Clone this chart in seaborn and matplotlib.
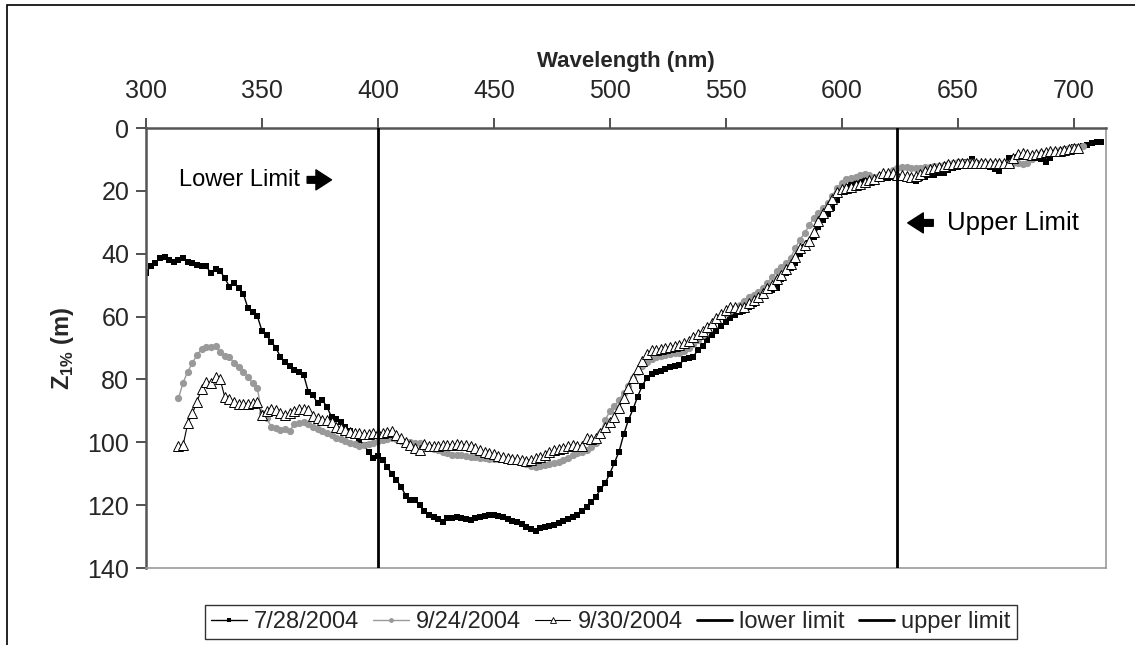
import numpy as np
import pandas as pd
import matplotlib
matplotlib.use("Agg")
import matplotlib.pyplot as plt
import seaborn as sns
from matplotlib.lines import Line2D
from matplotlib.patches import Rectangle

# ---------------- data ----------------
wl_0728 = list(range(300, 714, 2))
z_0728 = [46, 44, 43, 41.5, 41, 42, 42.5, 42, 41.5, 42.5,
          43, 43.5, 44, 44, 46.2, 45, 45.5, 47.8, 50.5, 49.4,
          51, 52.8, 57.4, 58.5, 59.8, 64.5, 66, 68, 70, 72.8,
          74.5, 75.7, 77, 77.5, 78.6, 83.9, 85, 87.6, 86.5, 88.7,
          91.9, 92.5, 93.7, 95, 96.5, 98, 99.3, 101, 103, 105,
          104.5, 105.5, 107.8, 110.1, 112, 114.1, 117, 118.4, 118.4, 120,
          122, 123, 123.7, 124.5, 125.3, 124, 124, 123.7, 124, 124.3,
          124.7, 124, 123.7, 123.4, 123.1, 123.1, 123.4, 123.8, 124.4, 125,
          125.5, 126, 127, 127.5, 128.1, 127.3, 126.8, 126.6, 126.2, 125.7,
          125, 124.5, 123.7, 123, 121.8, 120.7, 119, 117.3, 115, 113,
          110, 106.5, 103, 97.5, 93, 89.5, 85.5, 82, 79.5, 78.3,
          77.7, 77.2, 76.8, 76.1, 75.8, 75.4, 73.6, 73.3, 72.8, 70.6,
          69.5, 67.5, 65.9, 64.5, 63, 61.8, 60.6, 59.5, 58.4, 57.5,
          56.8, 56, 54.8, 53.4, 52, 51.5, 51, 48, 46, 44.5,
          43, 40, 37.8, 36.5, 34.6, 31.5, 29.3, 27.5, 25.5, 23,
          20.5, 18.8, 17.5, 17, 16.7, 16.5, 16.5, 16.5, 16.3, 16,
          15.8, 15.6, 15.5, 16, 16, 16.3, 16.8, 16, 15.5, 15,
          14.8, 14.4, 14.2, 13.5, 12.8, 12.3, 11.5, 10.8, 10, 11,
          11.5, 12, 12.5, 13, 13.6, 11.5, 9.7, 9.5, 9.3, 9.2,
          9.1, 9.1, 9.5, 10, 10.7, 9.5, 8.3, 7.5, 7.0, 6.6,
          6.2, 5.9, 5.6, 5.3, 4.9, 4.6, 4.3]

wl_0924 = list(range(314, 706, 2))
z_0924 = [86, 81, 77.5, 74.8, 72.2, 70.4, 69.8, 69.6, 69.4, 71.2,
          72.5, 73, 74.7, 75.9, 77.5, 79.3, 81.2, 82.8, 90.8, 92.4,
          95, 95.5, 96.1, 95.8, 96.3, 94.2, 93.8, 93.7, 94.2, 95.2,
          95.9, 96.3, 97, 97.7, 98.5, 99.1, 99.6, 100.1, 100.5, 101.2,
          101, 100.5, 100.1, 99.5, 99.3, 99, 98.7, 99, 99.5, 99.8,
          100, 100.2, 100.3, 101, 101.5, 102, 102.5, 103, 103.5, 104,
          104, 104.2, 104.4, 104.6, 104.7, 104.9, 105.1, 105.2, 105.2, 105.3,
          105.4, 105.5, 105.6, 105.8, 106.2, 106.8, 107.4, 107.8, 107.6, 107.2,
          107, 106.7, 106.2, 105.5, 105, 104.2, 103.5, 103, 102.4, 101.5,
          100.3, 97, 92.9, 90.2, 88.5, 86.5, 84.3, 82, 79.6, 77.5,
          75.8, 74.3, 73.6, 73, 72.7, 72.3, 71.9, 71.7, 71.5, 71,
          70.1, 68.7, 67.4, 66, 64.2, 62.6, 61, 59.7, 59, 58.3,
          57.3, 56.3, 55, 53.9, 53, 52.3, 51, 49.2, 47.5, 45.6,
          44.1, 43, 41.3, 38.2, 35.5, 33.4, 31, 28.5, 27, 25.5,
          23.8, 21.5, 19, 17.5, 16.3, 15.9, 15.5, 15, 14.6, 15,
          15.5, 15.3, 15.1, 14.5, 13.5, 12.8, 12.4, 12.5, 12.7, 12.8,
          12.6, 12.4, 12.3, 12.2, 12, 11.7, 11.4, 11.1, 10.9, 10.8,
          10.7, 10.9, 11, 11.1, 11.2, 11.1, 11, 11, 11, 11,
          11.1, 11.2, 11.3, 11.2, 10, 8.6, 8.1, 7.8, 7.5, 7.2,
          7, 6.7, 6.4, 6.1, 5.9, 5.7]

wl_0930 = list(range(314, 704, 2))
z_0930 = [101.2, 100.9, 94, 90.8, 87.1, 83, 80.7, 81, 79.1, 80,
          85.7, 86.3, 87.1, 87.8, 87.8, 87.8, 87.5, 87.1, 91.3, 89.9,
          89.5, 89.8, 90.6, 91.3, 90.6, 90, 89.5, 89.5, 89.7, 91.6,
          92.4, 92.9, 93, 93.7, 95, 95.5, 96.2, 96.6, 97, 97.1,
          97.3, 97.4, 97.2, 97, 97, 96.6, 96.3, 97.7, 98.5, 99.8,
          100.9, 101.8, 102.5, 100.7, 101.1, 101.2, 101.2, 101, 100.9, 100.8,
          100.5, 100.8, 100.9, 101.2, 101.8, 102.4, 103, 103.3, 103.8, 104.5,
          104.8, 105.1, 105.2, 105.4, 105.6, 105.8, 105.5, 105.1, 104.8, 104,
          103.2, 102.6, 102.2, 101.7, 101.2, 101, 101.2, 101.2, 98.7, 98.9,
          98.7, 97, 95, 93.5, 91.8, 89, 86, 82.8, 79.5, 76.8,
          74, 72, 70.6, 70.5, 70.4, 70, 69.6, 69.3, 69, 68.5,
          67.8, 66.5, 65.6, 64.5, 63.3, 62, 60.5, 59.3, 58, 56.9,
          57, 57.4, 56.8, 55.8, 54.8, 53.8, 52.5, 51, 49.8, 48,
          46.8, 45, 43.3, 41, 38.3, 37.2, 35.8, 33, 29.5, 27,
          24.8, 22.5, 20.5, 19.3, 19, 18.7, 18.2, 17.8, 17.3, 16.7,
          16.2, 15.3, 14.4, 14.4, 14.4, 14.8, 15.1, 15.4, 15.5, 15.2,
          14.5, 13.7, 13, 12.7, 12.3, 12, 11.6, 11.4, 11.2, 11.2,
          11.2, 11.2, 11.2, 11.2, 11.2, 11.2, 11.2, 11.2, 11.2, 11,
          9.5, 8.2, 8.1, 8.4, 8.6, 8.2, 7.8, 7.5, 7.4, 7.3,
          7.2, 7, 6.8, 6.5, 6.3]

series_labels = ["7/28/2004", "9/24/2004", "9/30/2004"]
limit_labels = ["lower limit", "upper limit"]
limits_nm = [400, 624]
x_ticks = [300, 350, 400, 450, 500, 550, 600, 650, 700]
y_ticks = [0, 20, 40, 60, 80, 100, 120, 140]

# ---------------- style ----------------
sns.set_theme(style="white")
plt.rcParams["font.family"] = ["Liberation Sans", "DejaVu Sans"]
plt.rcParams["mathtext.fontset"] = "custom"
plt.rcParams["mathtext.rm"] = "Liberation Sans"
plt.rcParams["mathtext.bf"] = "Liberation Sans:bold"

fig = plt.figure(figsize=(11.35, 6.45), dpi=100)
ax = fig.add_axes([146 / 1135, 1 - 568 / 645, (1106 - 146) / 1135, (568 - 128) / 645])

df1 = pd.DataFrame({"wl": wl_0728, "z": z_0728})
df2 = pd.DataFrame({"wl": wl_0924, "z": z_0924})
df3 = pd.DataFrame({"wl": wl_0930, "z": z_0930})

sns.lineplot(data=df2, x="wl", y="z", ax=ax, color="#999999", lw=1,
             marker="o", markersize=5.2, markeredgewidth=0, markerfacecolor="#999999",
             zorder=3, estimator=None, sort=False)
sns.lineplot(data=df3, x="wl", y="z", ax=ax, color="black", lw=0.8,
             marker="^", markersize=6.5, markeredgewidth=0.7, markerfacecolor="white",
             markeredgecolor="black", zorder=4, estimator=None, sort=False)
sns.lineplot(data=df1, x="wl", y="z", ax=ax, color="black", lw=1,
             marker="s", markersize=4.6, markeredgewidth=0, markerfacecolor="black",
             zorder=2, estimator=None, sort=False)

for xv in limits_nm:
    ax.axvline(xv, color="black", lw=2.0, zorder=5)

ax.set_xlim(300, 714)
ax.set_ylim(140, 0)
ax.set_xticks(x_ticks)
ax.set_yticks(y_ticks)
ax.xaxis.tick_top()
ax.xaxis.set_label_position("top")
ax.tick_params(axis="x", which="both", direction="out", length=7, width=1.2,
               color="#333333", labelsize=18, pad=11, top=True, bottom=False)
ax.tick_params(axis="y", which="both", direction="out", length=7, width=1.2,
               color="#333333", labelsize=18, pad=5, left=True)
ax.set_xlabel("Wavelength (nm)", fontsize=16, fontweight="bold", labelpad=9)
ax.set_ylabel(r"Z$_{\mathbf{1\%}}$ (m)", fontsize=17, fontweight="bold", labelpad=8)

for s in ["top", "left"]:
    ax.spines[s].set_color("#555555")
    ax.spines[s].set_linewidth(1.8)
for s in ["bottom", "right"]:
    ax.spines[s].set_color("#999999")
    ax.spines[s].set_linewidth(1.2)
ax.grid(False)

# annotations
ax.text(366.5, 16.5, "Lower Limit", fontsize=17, ha="right", va="center", color="black")
ax.annotate("", xy=(380, 16.5), xytext=(369.5, 16.5),
            arrowprops=dict(arrowstyle="simple,head_width=0.9,head_length=0.7,tail_width=0.3",
                            color="black", mutation_scale=16, shrinkA=0, shrinkB=0))
ax.text(645.5, 30.2, "Upper Limit", fontsize=18.5, ha="left", va="center", color="black")
ax.annotate("", xy=(628.5, 30.2), xytext=(639.5, 30.2),
            arrowprops=dict(arrowstyle="simple,head_width=0.9,head_length=0.7,tail_width=0.3",
                            color="black", mutation_scale=16, shrinkA=0, shrinkB=0))

# legend
handles = [
    Line2D([], [], color="black", lw=1, marker="s", markersize=3.5, markeredgewidth=0),
    Line2D([], [], color="#999999", lw=1, marker="o", markersize=3.5, markeredgewidth=0),
    Line2D([], [], color="black", lw=0.8, marker="^", markersize=4.5,
           markerfacecolor="white", markeredgewidth=0.6),
    Line2D([], [], color="black", lw=2),
    Line2D([], [], color="black", lw=2),
]
leg = fig.legend(handles, series_labels + limit_labels, loc="center",
                 bbox_to_anchor=(611 / 1135, 1 - 622 / 645), ncol=5, fontsize=17,
                 frameon=True, fancybox=False, edgecolor="black", handlelength=1.5,
                 handletextpad=0.3, columnspacing=0.6, borderpad=0.25)
leg.get_frame().set_linewidth(1.0)

# outer chart border
fig.patches.append(Rectangle((7 / 1135, -0.1), 1.2, 1 - 5 / 645 + 0.1,
                             transform=fig.transFigure, fill=False,
                             edgecolor="black", lw=1.2, zorder=0))

fig.savefig("out.png", dpi=100, facecolor="white")
